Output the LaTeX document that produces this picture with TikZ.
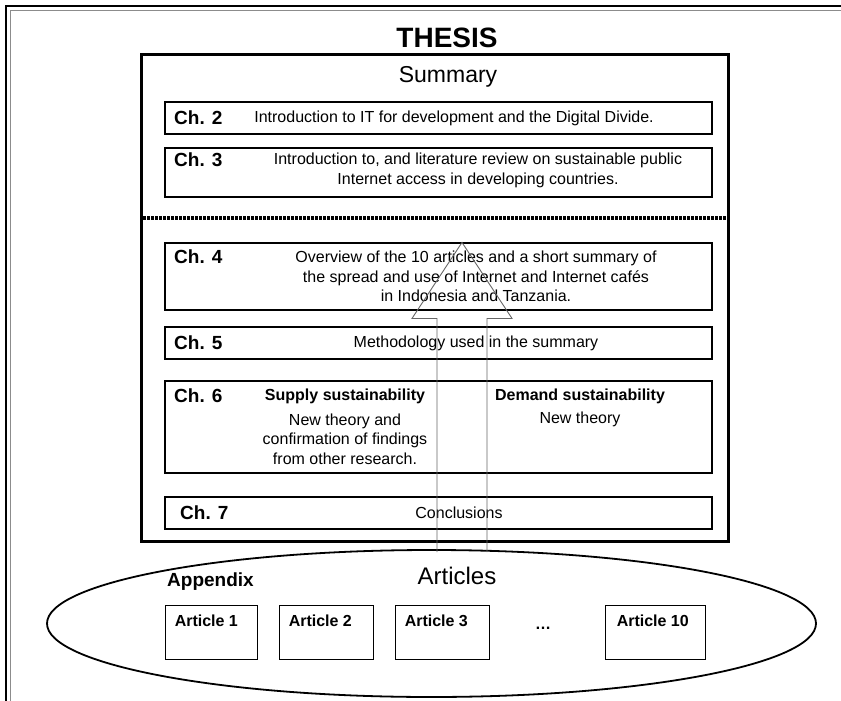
\documentclass[tikz,border=0pt]{standalone}
\usepackage{fontspec}
\setmainfont{Liberation Sans}
\usetikzlibrary{shapes.geometric, calc}

\tikzset{
  chbox/.style={draw, line width=1.1pt, minimum width=547pt, inner sep=0pt},
  chlabel/.style={anchor=west, inner sep=0pt, font=\fontsize{19}{22}\selectfont\bfseries},
  bodytext/.style={align=center, inner sep=0pt, font=\fontsize{16}{19.5}\selectfont},
  headtext/.style={align=center, inner sep=0pt, font=\fontsize{16}{19.5}\selectfont\bfseries},
  artbox/.style={draw, line width=0.9pt, minimum height=54pt, inner sep=0pt},
  artlabel/.style={anchor=west, inner sep=0pt, font=\fontsize{16}{19}\selectfont\bfseries},
  hollow/.style={draw=black!60, line width=0.9pt, line join=miter}
}

\begin{document}
\begin{tikzpicture}[x=1pt, y=-1pt]
  \useasboundingbox (0,0) rectangle (841,701);

  % Page frame
  \draw[line width=2.2pt] (6,701) -- (6,6) -- (841,6);
  \draw[black!45, line width=1pt] (10.5,701) -- (10.5,10.5) -- (841,10.5);

  % Title and summary frame
  \node[font=\fontsize{28}{32}\selectfont\bfseries, inner sep=0pt] (thesis) at (447,38) {THESIS};
  \draw[line width=3pt] (141,55) rectangle (728,541);
  \node[font=\fontsize{23}{26}\selectfont, inner sep=0pt] (summary) at (448,77) {Summary};

  % Chapters 2 and 3
  \node[chbox, minimum height=32pt] (ch2) at (438.5,118) {};
  \node[chlabel] (ch2l) at (174,118) {Ch. 2};
  \node[bodytext] (ch2t) at (454,118) {Introduction to IT for development and the Digital Divide.};

  \node[chbox, minimum height=49pt] (ch3) at (438.5,172.5) {};
  \node[chlabel] (ch3l) at (174,160) {Ch. 3};
  \node[bodytext] (ch3t) at (478,170.5) {Introduction to, and literature review on sustainable public\\Internet access in developing countries.};

  % Dividing line
  \draw[line width=3.4pt, dash pattern=on 2.6pt off 1.4pt] (143,218) -- (726,218);

  % Chapter 4
  \node[chbox, minimum height=67pt] (ch4) at (438.5,276.5) {};
  \node[chlabel] (ch4l) at (174,257) {Ch. 4};
  \node[bodytext] (ch4t) at (476,276.5) {Overview of the 10 articles and a short summary of\\the spread and use of Internet and Internet caf\'es\\in Indonesia and Tanzania.};

  % Chapter 5
  \node[chbox, minimum height=32pt] (ch5) at (438.5,343) {};
  \node[chlabel] (ch5l) at (174,343) {Ch. 5};
  \node[bodytext] (ch5t) at (476,343) {Methodology used in the summary};

  % Chapter 6
  \node[chbox, minimum height=92pt] (ch6) at (438.5,427) {};
  \node[chlabel] (ch6l) at (174,396) {Ch. 6};
  \node[headtext] (supply) at (345,396) {Supply sustainability};
  \node[bodytext] (supplyt) at (345,439) {New theory and\\confirmation of findings\\from other research.};
  \node[headtext] (demand) at (580,396) {Demand sustainability};
  \node[bodytext] (demandt) at (580,419) {New theory};

  % Chapter 7
  \node[chbox, minimum height=32pt] (ch7) at (438.5,513) {};
  \node[chlabel] (ch7l) at (180,513) {Ch. 7};
  \node[bodytext] (ch7t) at (459,513) {Conclusions};

  % Appendix with the articles
  \node[draw, ellipse, line width=1.8pt, minimum width=769pt, minimum height=147pt, inner sep=0pt] (app) at (431.5,623.5) {};
  \node[font=\fontsize{19}{22}\selectfont\bfseries, anchor=west, inner sep=0pt] (appl) at (167,582) {Appendix};
  \node[font=\fontsize{24}{28}\selectfont, inner sep=0pt] (articles) at (457,576) {Articles};

  \node[artbox, minimum width=92pt] (a1) at (211,632) {};
  \node[artbox, minimum width=94pt] (a2) at (326,632) {};
  \node[artbox, minimum width=94pt] (a3) at (442,632) {};
  \node[artbox, minimum width=100pt] (a10) at (655,632) {};
  \node[artlabel] (a1l) at ($(a1.north west)+(10,16)$) {Article 1};
  \node[artlabel] (a2l) at ($(a2.north west)+(10,16)$) {Article 2};
  \node[artlabel] (a3l) at ($(a3.north west)+(10,16)$) {Article 3};
  \node[artlabel] (a10l) at ($(a10.north west)+(12,16)$) {Article 10};
  \node[font=\fontsize{16}{19}\selectfont\bfseries, inner sep=0pt] (dots) at (543,628) {\ldots};

  % Hollow arrow from the articles up to Ch. 4
  \coordinate (tip) at (ch4.north -| 462,0);
  \coordinate (base) at (462,552);
  \draw[hollow] ($(base)+(-25,0)$) -- ($(tip)+(-25,76)$) -- ($(tip)+(-50,76)$) -- (tip)
    -- ($(tip)+(50,76)$) -- ($(tip)+(25,76)$) -- ($(base)+(25,0)$);
\end{tikzpicture}
\end{document}
